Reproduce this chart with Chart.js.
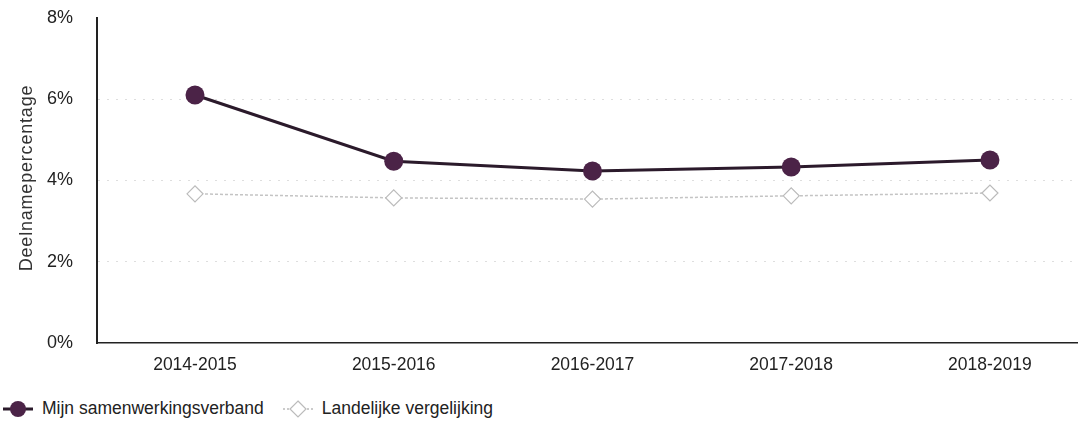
<!DOCTYPE html>
<html>
<head>
<meta charset="utf-8">
<script src="https://cdn.jsdelivr.net/npm/chart.js@4"></script>
<style>
  body { margin: 0; background: #fff; font-family: "Liberation Sans", Arial, sans-serif; }
  #wrap { position: relative; width: 1078px; height: 427px; overflow: hidden; }
  #box { position: absolute; left: 0; top: -17px; width: 1078px; height: 397px; }
  #ytitle { position: absolute; left: 26px; top: 178px; transform: translate(-50%, -50%) rotate(-90deg); font-size: 18px; letter-spacing: 0.8px; color: #333; white-space: nowrap; }
  #legend { position: absolute; left: 2px; top: 398px; font-size: 17.5px; color: #222; display: flex; align-items: center; }
  #legend span.item { display: flex; align-items: center; margin-right: 18px; }
  #legend svg { margin-right: 8px; }
</style>
</head>
<body>
<div id="wrap">
  <div id="box"><canvas id="myLineChart"></canvas></div>
  <div id="ytitle">Deelnamepercentage</div>
  <div id="legend">
    <span class="item">
      <svg width="32" height="20"><line x1="1" y1="10" x2="31" y2="10" stroke="#2b1a2b" stroke-width="3"/><circle cx="16" cy="10" r="8" fill="#4b2347"/></svg>
      Mijn samenwerkingsverband
    </span>
    <span class="item">
      <svg width="32" height="20"><line x1="1" y1="10" x2="31" y2="10" stroke="#bbb" stroke-width="1.5" stroke-dasharray="2,2"/><path d="M16 2 L24 10 L16 18 L8 10 Z" fill="#fff" stroke="#bbb" stroke-width="1.2"/></svg>
      Landelijke vergelijking
    </span>
  </div>
</div>
<script>
  const categories = ['2014-2015', '2015-2016', '2016-2017', '2017-2018', '2018-2019'];
  const mijnValues = [6.10, 4.47, 4.23, 4.33, 4.50];
  const landelijkValues = [3.67, 3.57, 3.54, 3.62, 3.69];
  const yTicks = [0, 2, 4, 6, 8];

  const toPoints = (vals) => vals.map((v, i) => ({ x: i, y: v }));
  const font = '"Liberation Sans", Arial, sans-serif';

  const ctx = document.getElementById('myLineChart').getContext('2d');

  new Chart(ctx, {
      type: 'line',
      data: {
          datasets: [
              {
                  label: 'Landelijke vergelijking',
                  data: toPoints(landelijkValues),
                  borderColor: '#c4c4c4',
                  borderWidth: 1.5,
                  borderDash: [3, 2],
                  pointStyle: 'rectRot',
                  pointRadius: 8,
                  pointBackgroundColor: '#fff',
                  pointBorderColor: '#bbb',
                  pointBorderWidth: 1.2,
                  order: 2
              },
              {
                  label: 'Mijn samenwerkingsverband',
                  data: toPoints(mijnValues),
                  borderColor: '#2b1a2b',
                  borderWidth: 3,
                  pointStyle: 'circle',
                  pointRadius: 9.5,
                  pointBackgroundColor: '#4b2347',
                  pointBorderColor: '#4b2347',
                  pointBorderWidth: 0,
                  order: 1
              }
          ]
      },
      options: {
          responsive: true,
          maintainAspectRatio: false,
          animation: false,
          layout: { autoPadding: false, padding: { top: 6, left: 23, right: 0, bottom: 0 } },
          plugins: {
              legend: { display: false },
              tooltip: { enabled: false }
          },
          scales: {
              x: {
                  type: 'linear',
                  min: -0.493,
                  max: 4.443,
                  afterBuildTicks: (axis) => { axis.ticks = categories.map((c, i) => ({ value: i })); },
                  ticks: {
                      callback: (v) => categories[v],
                      color: '#222',
                      font: { size: 17.5, family: font },
                      padding: 4,
                      maxRotation: 0
                  },
                  grid: { display: false },
                  border: { display: true, color: '#222', width: 1.5 }
              },
              y: {
                  min: 0,
                  max: 8,
                  afterBuildTicks: (axis) => { axis.ticks = yTicks.map(v => ({ value: v })); },
                  ticks: {
                      callback: (v) => v + '%',
                      color: '#222',
                      font: { size: 18, family: font },
                      padding: 24
                  },
                  grid: {
                      color: (c) => (c.tick.value === 0 || c.tick.value === 8) ? 'rgba(0,0,0,0)' : '#dedede',
                      drawTicks: false
                  },
                  border: { display: true, color: '#222', width: 2, dash: [2, 7] }
              }
          }
      }
  });
</script>
</body>
</html>
